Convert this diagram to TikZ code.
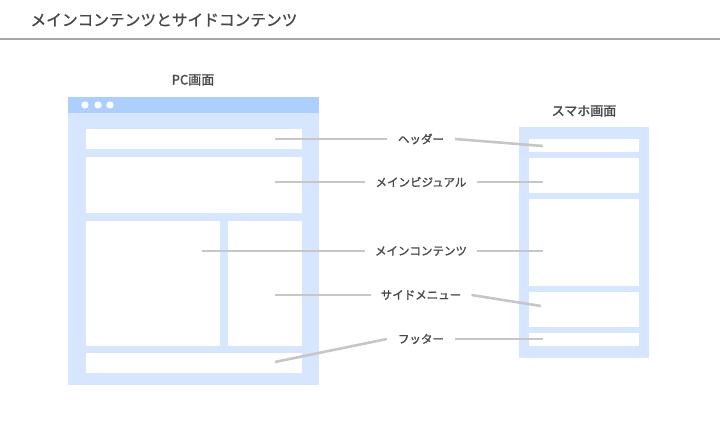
\documentclass[tikz,border=0pt]{standalone}
\usepackage{fontspec}
\newfontfamily\jp{Noto Sans CJK JP}
\newfontfamily\jpm[FakeBold=1.6]{Noto Sans CJK JP}
\newfontfamily\jpt[FakeBold=1.2]{Noto Sans CJK JP}
\definecolor{frame}{HTML}{D6E6FF}
\definecolor{bar}{HTML}{ADCFFD}
\definecolor{conn}{HTML}{C6C6C6}
\definecolor{txt}{HTML}{484848}
\begin{document}
\begin{tikzpicture}[x=1pt,y=-1pt,
  lab/.style={font=\jpm\fontsize{11.5}{12}\selectfont, text=txt, inner xsep=10pt, inner ysep=2pt},
  head/.style={font=\jpm\fontsize{13}{14}\selectfont, text=txt},
  cn/.style={draw=conn, line width=2.6pt},
  pane/.style={fill=frame},
  wbox/.style={fill=white}]
\useasboundingbox (0,0) rectangle (720,430);
% title
\node[anchor=west, font=\jpt\fontsize{15.7}{16}\selectfont, text=txt] (title) at (27,20) {メインコンテンツとサイドコンテンツ};
\draw[draw=black!35, line width=1.6pt] (0,39) -- (720,39);
% PC window
\node[head] (pclab) at (193,80) {PC画面};
\fill[pane] (68,97) rectangle (319,385);
\fill[bar] (68,97) rectangle (319,113);
\foreach \x in {85,98,110} \fill[white] (\x,105) circle (3.6);
\fill[wbox] (86,129) rectangle (302,149);
\fill[wbox] (86,157) rectangle (302,213);
\fill[wbox] (86,221) rectangle (220,346);
\fill[wbox] (228,221) rectangle (302,346);
\fill[wbox] (86,353) rectangle (302,373);
% phone
\node[head] (splab) at (584,111) {スマホ画面};
\fill[pane] (519,127) rectangle (649,358);
\fill[wbox] (529,139) rectangle (639,152);
\fill[wbox] (529,158) rectangle (639,193);
\fill[wbox] (529,199) rectangle (639,286);
\fill[wbox] (529,292) rectangle (639,327);
\fill[wbox] (529,333) rectangle (639,346);
% anchor points
\coordinate (pH) at (275,139);
\coordinate (pV) at (275,182);
\coordinate (pM) at (202,251);
\coordinate (pS) at (275,295);
\coordinate (pF) at (275,362);
\coordinate (sH) at (543,146);
\coordinate (sV) at (543,182);
\coordinate (sM) at (543,251);
\coordinate (sS) at (541,306);
\coordinate (sF) at (543,339);
% labels
\node[lab, inner xsep=11pt] (lH) at (421,139) {ヘッダー};
\node[lab] (lV) at (421,182) {メインビジュアル};
\node[lab] (lM) at (421,251) {メインコンテンツ};
\node[lab] (lS) at (421,295) {サイドメニュー};
\node[lab, inner xsep=11pt] (lF) at (421,339) {フッター};
% connectors
\draw[cn] (pH) -- (lH.west);
\draw[cn] (lH.east) -- (sH);
\draw[cn] (pV) -- (lV.west);
\draw[cn] (lV.east) -- (sV);
\draw[cn] (pM) -- (lM.west);
\draw[cn] (lM.east) -- (sM);
\draw[cn] (pS) -- (lS.west);
\draw[cn] (lS.east) -- (sS);
\draw[cn] (pF) -- (lF.west);
\draw[cn] (lF.east) -- (sF);
\end{tikzpicture}
\end{document}
